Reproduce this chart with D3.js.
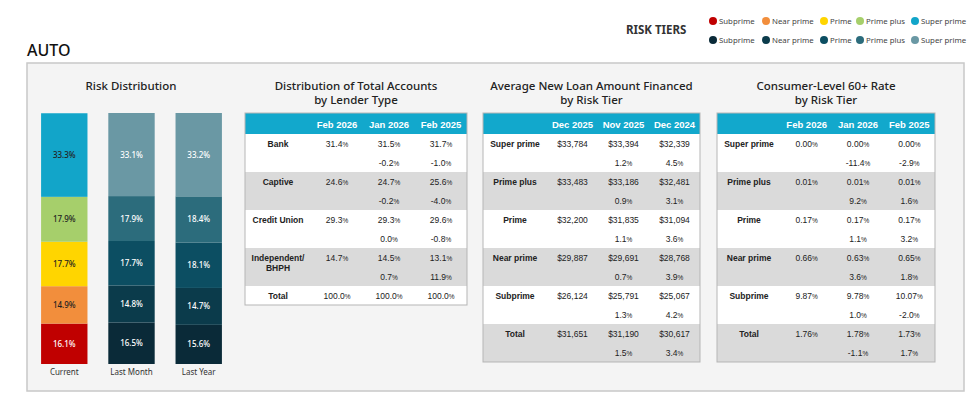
<!DOCTYPE html>
<html><head><meta charset="utf-8">
<script src="https://cdn.jsdelivr.net/npm/d3@7"></script>
<style>
html,body{margin:0;padding:0;background:#fff;}
svg{display:block;}
</style></head>
<body>
<svg id="chart" width="977" height="396"></svg>
<script>
// ---------- DATA ----------
const riskTiers = ["Subprime", "Near prime", "Prime", "Prime plus", "Super prime"];
const barPeriods = ["Current", "Last Month", "Last Year"];
const currentDist = [16.1, 14.9, 17.7, 17.9, 33.3];
const lastMonthDist = [16.5, 14.8, 17.7, 17.9, 33.1];
const lastYearDist = [15.6, 14.7, 18.1, 18.4, 33.2];

const lenderTypes = ["Bank", "Captive", "Credit Union", "Independent/\nBHPH", "Total"];
const lenderPeriods = ["Feb 2026", "Jan 2026", "Feb 2025"];
const lenderShare = [[31.4, 31.5, 31.7], [24.6, 24.7, 25.6], [29.3, 29.3, 29.6], [14.7, 14.5, 13.1], [100.0, 100.0, 100.0]];
const lenderChange = [[-0.2, -1.0], [-0.2, -4.0], [0.0, -0.8], [0.7, 11.9], null];

const loanTiers = ["Super prime", "Prime plus", "Prime", "Near prime", "Subprime", "Total"];
const loanPeriods = ["Dec 2025", "Nov 2025", "Dec 2024"];
const loanAmounts = [[33784, 33394, 32339], [33483, 33186, 32481], [32200, 31835, 31094], [29887, 29691, 28768], [26124, 25791, 25067], [31651, 31190, 30617]];
const loanChange = [[1.2, 4.5], [0.9, 3.1], [1.1, 3.6], [0.7, 3.9], [1.3, 4.2], [1.5, 3.4]];

const dqTiers = ["Super prime", "Prime plus", "Prime", "Near prime", "Subprime", "Total"];
const dqPeriods = ["Feb 2026", "Jan 2026", "Feb 2025"];
const dqRates = [[0.00, 0.00, 0.00], [0.01, 0.01, 0.01], [0.17, 0.17, 0.17], [0.66, 0.63, 0.65], [9.87, 9.78, 10.07], [1.76, 1.78, 1.73]];
const dqChange = [[-11.4, -2.9], [9.2, 1.6], [1.1, 3.2], [3.6, 1.8], [1.0, -2.0], [-1.1, 1.7]];

// ---------- STYLE ----------
const currentColors = ["#c00000", "#f28e3c", "#ffd500", "#a6cf6b", "#12a5c9"];
const pastColors = ["#0a2a38", "#0b3b4b", "#0c4e62", "#2c6c7c", "#6a98a4"];
const currentText = ["#ffffff", "#222", "#222", "#222", "#222"];
const titleFont = "'Noto Sans', Lato, sans-serif";
const cellFont = "'Liberation Sans', Arial, sans-serif";

const svg = d3.select("#chart");

// Title
svg.append("text").attr("x", 27).attr("y", 56).text("AUTO")
  .attr("font-family", titleFont).attr("font-size", 16).attr("font-weight", 500).attr("fill", "#111");

// Legend
svg.append("text").attr("x", 626).attr("y", 34).text("RISK TIERS")
  .attr("font-family", titleFont).attr("font-size", 11.5).attr("font-weight", 700).attr("fill", "#333");
const legendOffsets = [0, 53, 111, 147, 202];
[[currentColors, 21], [pastColors, 40]].forEach(([cols, y]) => {
  riskTiers.forEach((t, i) => {
    const cx = 713 + legendOffsets[i];
    svg.append("circle").attr("cx", cx).attr("cy", y).attr("r", 4).attr("fill", cols[i]);
    svg.append("text").attr("x", cx + 6).attr("y", y + 3).text(t)
      .attr("font-family", titleFont).attr("font-size", 7.8).attr("fill", "#444");
  });
});

// Outer panel
svg.append("rect").attr("x", 27).attr("y", 63).attr("width", 937).attr("height", 328)
  .attr("fill", "#f4f4f4").attr("stroke", "#c8c8c8").attr("stroke-width", 1.5);

// ---------- Risk Distribution stacked bars ----------
svg.append("text").attr("x", 131).attr("y", 90).attr("text-anchor", "middle").text("Risk Distribution")
  .attr("font-family", titleFont).attr("font-size", 11.5).attr("font-weight", 500).attr("fill", "#222");

const dists = [currentDist, lastMonthDist, lastYearDist];
const xBar = d3.scaleBand().domain(barPeriods).range([31, 232]).paddingInner(0.31).paddingOuter(0.15);
const yBar = d3.scaleLinear().domain([0, 100]).range([364, 113]);
const stack = d3.stack().keys(d3.range(riskTiers.length));
const stackData = dists.map(d => Object.assign({}, d));
const series = stack(stackData);

series.forEach((s, ti) => {
  s.forEach((seg, pi) => {
    const period = barPeriods[pi];
    const color = pi === 0 ? currentColors[ti] : pastColors[ti];
    const y0 = yBar(seg[1]), y1 = yBar(seg[0]);
    svg.append("rect").attr("x", xBar(period)).attr("y", y0)
      .attr("width", xBar.bandwidth()).attr("height", y1 - y0).attr("fill", color);
    svg.append("text").attr("x", xBar(period) + xBar.bandwidth() / 2).attr("y", (y0 + y1) / 2 + 3)
      .attr("text-anchor", "middle").text(d3.format(".1f")(dists[pi][ti]) + "%")
      .attr("font-family", titleFont).attr("font-size", 8).attr("font-weight", 500)
      .attr("fill", pi === 0 ? currentText[ti] : "#ffffff");
  });
});
barPeriods.forEach(p => {
  svg.append("text").attr("x", xBar(p) + xBar.bandwidth() / 2).attr("y", 375).attr("text-anchor", "middle")
    .text(p).attr("font-family", titleFont).attr("font-size", 8).attr("fill", "#333");
});

// ---------- Table helper ----------
function drawTable(opt) {
  const g = svg.append("g");
  const { x0, width, labelW, title, periods, rows } = opt;
  const headTop = 113, headH = 21, lineH = 19;
  title.forEach((t, i) => {
    g.append("text").attr("x", x0 + width / 2).attr("y", 90 + i * 14).attr("text-anchor", "middle")
      .text(t).attr("font-family", titleFont).attr("font-size", 11.5).attr("font-weight", 500).attr("fill", "#222");
  });
  const xCol = d3.scaleBand().domain(periods).range([x0 + labelW, x0 + width]);
  let y = headTop + headH;
  rows.forEach((r, i) => {
    const h = r.change ? lineH * 2 : lineH;
    g.append("rect").attr("x", x0).attr("y", y).attr("width", width).attr("height", h)
      .attr("fill", i % 2 === 1 ? "#dadada" : "#ffffff");
    const labLines = r.label.split("\n");
    labLines.forEach((l, k) => {
      g.append("text").attr("x", x0 + labelW / 2).attr("y", y + 13 + k * 10).attr("text-anchor", "middle")
        .text(l).attr("font-family", cellFont).attr("font-size", 8.5).attr("font-weight", 700).attr("fill", "#222");
    });
    r.values.forEach((v, k) => {
      const t = g.append("text").attr("x", xCol(periods[k]) + xCol.bandwidth() / 2).attr("y", y + 13)
        .attr("text-anchor", "middle").attr("font-family", cellFont).attr("font-size", 8.5).attr("fill", "#222");
      t.append("tspan").text(opt.fmt(v));
      if (opt.pct) t.append("tspan").text("%").attr("font-size", 6.5);
    });
    if (r.change) {
      r.change.forEach((v, k) => {
        const t = g.append("text").attr("x", xCol(periods[k + 1]) + xCol.bandwidth() / 2).attr("y", y + 32)
          .attr("text-anchor", "middle").attr("font-family", cellFont).attr("font-size", 8.5).attr("fill", "#222");
        t.append("tspan").text(d3.format(".1f")(v).replace("−", "-"));
        t.append("tspan").text("%").attr("font-size", 6.5);
      });
    }
    y += h;
  });
  g.append("rect").attr("x", x0).attr("y", headTop).attr("width", width).attr("height", headH).attr("fill", "#12a8cc");
  periods.forEach(p => {
    g.append("text").attr("x", xCol(p) + xCol.bandwidth() / 2).attr("y", headTop + 14.5).attr("text-anchor", "middle")
      .text(p).attr("font-family", cellFont).attr("font-size", 9.5).attr("font-weight", 700).attr("fill", "#fff");
  });
  g.append("rect").attr("x", x0).attr("y", headTop).attr("width", width).attr("height", y - headTop)
    .attr("fill", "none").attr("stroke", "#b5b5b5").attr("stroke-width", 1);
}

drawTable({
  x0: 245, width: 222, labelW: 66,
  title: ["Distribution of Total Accounts", "by Lender Type"],
  periods: lenderPeriods, pct: true, fmt: d3.format(".1f"),
  rows: lenderTypes.map((l, i) => ({ label: l, values: lenderShare[i], change: lenderChange[i] }))
});
drawTable({
  x0: 483, width: 217, labelW: 64,
  title: ["Average New Loan Amount Financed", "by Risk Tier"],
  periods: loanPeriods, pct: false, fmt: d3.format("$,"),
  rows: loanTiers.map((l, i) => ({ label: l, values: loanAmounts[i], change: loanChange[i] }))
});
drawTable({
  x0: 717, width: 218, labelW: 64,
  title: ["Consumer-Level 60+ Rate", "by Risk Tier"],
  periods: dqPeriods, pct: true, fmt: d3.format(".2f"),
  rows: dqTiers.map((l, i) => ({ label: l, values: dqRates[i], change: dqChange[i] }))
});
</script>
</body></html>
